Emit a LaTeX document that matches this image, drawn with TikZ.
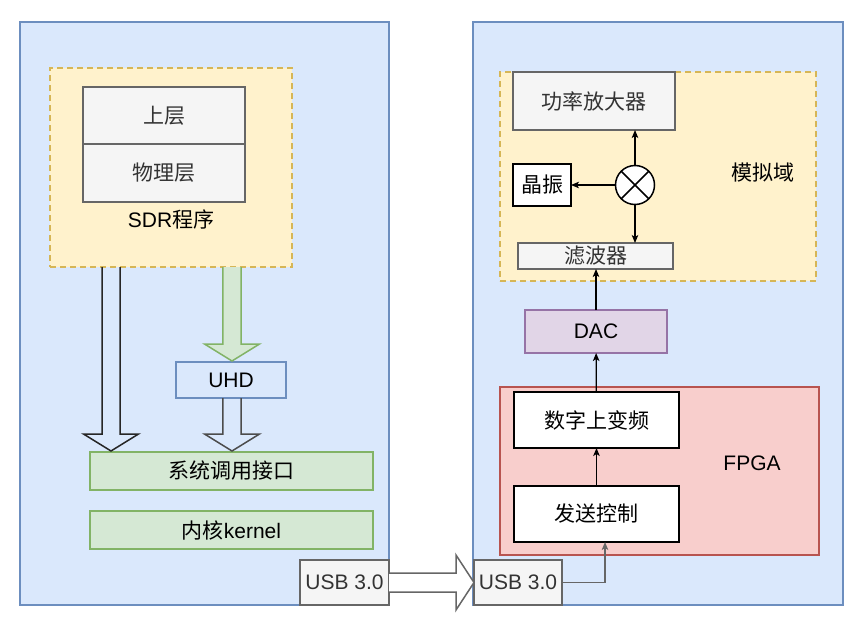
\documentclass[tikz,border=0pt]{standalone}
\usepackage{fontspec}
\setmainfont{Liberation Sans}
\newfontfamily\cjk{Noto Sans CJK SC}
\usetikzlibrary{arrows.meta,calc}
\definecolor{bluef}{HTML}{DAE8FC}
\definecolor{bluel}{HTML}{6C8EBF}
\definecolor{yelf}{HTML}{FFF2CC}
\definecolor{yell}{HTML}{D6B656}
\definecolor{grayf}{HTML}{F5F5F5}
\definecolor{grayl}{HTML}{666666}
\definecolor{grayt}{HTML}{333333}
\definecolor{greenf}{HTML}{D5E8D4}
\definecolor{greenl}{HTML}{82B366}
\definecolor{purf}{HTML}{E1D5E7}
\definecolor{purl}{HTML}{9673A6}
\definecolor{redf}{HTML}{F8CECC}
\definecolor{redl}{HTML}{B85450}
\newcommand{\boxat}[7]{\node[#2, minimum width={(#5-#3)*1pt}, minimum height={(#6-#4)*1pt}] (#1) at ({(#3+#5)/2},{(#4+#6)/2}) {#7};}
\newcommand{\vflex}[5]{% style, x, ytop, ytip, halfshaft
  \draw[#1] ({#2-#5},#3) -- ({#2-#5},{#4-17}) -- ({#2-27.5},{#4-17}) -- (#2,#4) -- ({#2+27.5},{#4-17}) -- ({#2+#5},{#4-17}) -- ({#2+#5},#3);}
\begin{document}
\begin{tikzpicture}[x=1pt,y=-1pt,
  base/.style={rectangle, inner sep=0pt, outer sep=0pt, line width=1.5pt, font=\fontsize{21}{25}\selectfont},
  bluebox/.style={base, draw=bluel, fill=bluef},
  dashbox/.style={base, draw=yell, fill=yelf, dash pattern=on 6pt off 4pt},
  graybox/.style={base, draw=grayl, fill=grayf, text=grayt},
  greenbox/.style={base, draw=greenl, fill=greenf},
  purbox/.style={base, draw=purl, fill=purf},
  redbox/.style={base, draw=redl, fill=redf},
  whitebox/.style={base, draw=black, fill=white, line width=1.8pt},
  lbl/.style={inner sep=0pt, font=\fontsize{21}{25}\selectfont},
  conn/.style={line width=1.2pt, -{Stealth[length=8pt,width=6.5pt,inset=2pt]}},
  hollow/.style={line width=1.5pt, line join=miter}
]
\useasboundingbox (0,0) rectangle (857,621);
% left side
\boxat{left}{bluebox}{20}{22}{389}{605}{}
\boxat{sdr}{dashbox}{50}{68}{292}{267}{}
\boxat{upper}{graybox}{83}{87}{245}{144}{\cjk 上层}
\boxat{phy}{graybox}{83}{144}{245}{202}{\cjk 物理层}
\node[lbl] (sdrlbl) at (171,219) {SDR{\cjk 程序}};
\boxat{uhd}{bluebox}{176}{362}{286}{398}{UHD}
\boxat{sys}{greenbox}{90}{452}{373}{490}{\cjk 系统调用接口}
\boxat{kern}{greenbox}{90}{511}{373}{549}{{\cjk 内核}kernel}
% right side
\boxat{right}{bluebox}{473}{22}{843}{605}{}
\boxat{ana}{dashbox}{500}{72}{816}{281}{}
\boxat{pa}{graybox}{513}{72}{675}{130}{\cjk 功率放大器}
\boxat{xo}{whitebox}{513}{164}{571}{206}{\cjk 晶振}
\node[circle, draw=black, fill=white, line width=1.5pt, minimum size=39pt, inner sep=0pt, outer sep=0pt] (mix) at (635,185) {};
\draw[line width=1.5pt] (mix.north west) -- (mix.south east) (mix.north east) -- (mix.south west);
\boxat{filt}{graybox}{518}{243}{673}{269}{\cjk 滤波器}
\node[lbl] (analbl) at (763,173) {\cjk 模拟域};
\boxat{dac}{purbox}{525}{310}{667}{353}{DAC}
\boxat{fpga}{redbox}{500}{387}{819}{555}{}
\boxat{duc}{whitebox}{514}{392}{679}{448}{\cjk 数字上变频}
\boxat{tx}{whitebox}{514}{486}{679}{542}{\cjk 发送控制}
\node[lbl] (fpgalbl) at (752,463) {FPGA};
% USB
\boxat{usbL}{graybox}{300}{560}{389}{605}{USB 3.0}
\draw[hollow, draw=grayl, fill=white] (usbL.east |- 0,573) -- (456,573) -- (456,555) -- (474,582.5) -- (456,610) -- (456,592) -- (usbL.east |- 0,592);
\boxat{usbR}{graybox}{474}{560}{562}{605}{USB 3.0}
% hollow arrows left
\vflex{hollow, draw=black!85}{111}{267}{451}{9}
\vflex{hollow, draw=greenl, fill=greenf}{232}{267}{361}{9.2}
\vflex{hollow, draw=black!70}{232}{398}{451}{9.2}
% connectors
\draw[conn] (tx) -- (duc);
\draw[conn] (duc) -- (dac);
\draw[conn] (dac.north) -- (dac.north |- filt.south);
\draw[conn] (mix.north) -- (mix.north |- pa.south);
\draw[conn] (mix.west) -- (xo.east |- mix.west);
\draw[conn] (mix.south) -- (mix.south |- filt.north);
\draw[conn, draw=grayl] (usbR.east) -| ([xshift=8.5pt]tx.south);
\end{tikzpicture}
\end{document}
